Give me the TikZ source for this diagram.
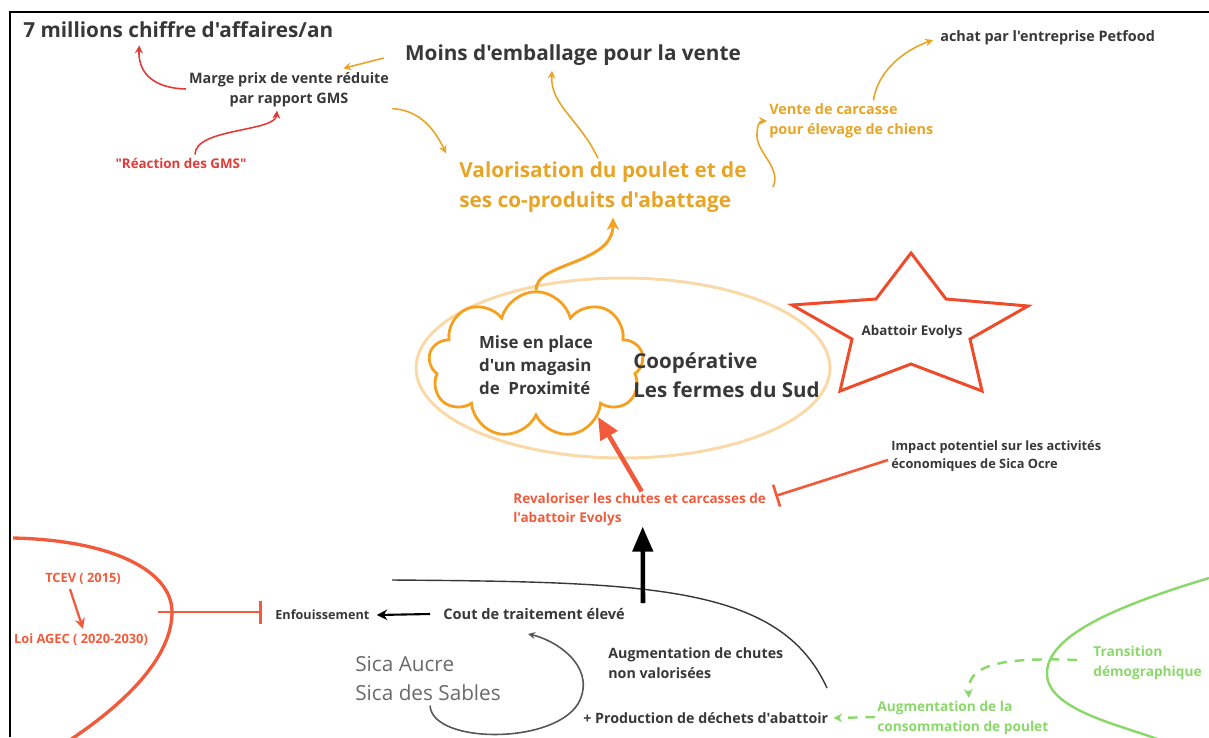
\documentclass[tikz,border=0pt]{standalone}
\usepackage{fontspec}
\setmainfont{Open Sans}[Ligatures=TeXOff]
\usetikzlibrary{arrows.meta, calc, shapes.symbols, shapes.geometric}

\definecolor{txtdark}{HTML}{383838}
\definecolor{gold}{HTML}{E8A425}
\definecolor{cloudor}{HTML}{F5A01E}
\definecolor{peach}{HTML}{FAD9A8}
\definecolor{starred}{HTML}{EE4B2B}
\definecolor{tomato}{HTML}{F15B3B}
\definecolor{gmsred}{HTML}{E23A36}
\definecolor{leaf}{HTML}{8BD86A}
\definecolor{sicagray}{HTML}{6A6A6A}

\begin{document}
\begin{tikzpicture}[x=0.02cm,y=-0.02cm,>=Stealth]
  % styles
  \tikzstyle{txt} = [inner sep=0pt,text=txtdark,font=\bfseries\fontsize{8.2}{11.4}\selectfont];
  \tikzstyle{bigtxt} = [txt,font=\bfseries\fontsize{11.8}{14}\selectfont];
  \tikzstyle{tinytxt} = [txt,font=\bfseries\fontsize{7.3}{10.3}\selectfont];
  \tikzstyle{valotxt} = [txt,text=gold,align=left,font=\bfseries\fontsize{11.8}{17}\selectfont];
  \tikzstyle{cloudbox} = [cloud,draw=cloudor,line width=1.6pt,cloud puffs=9,aspect=1.45,
                          minimum width=4.3cm,minimum height=2.75cm,inner sep=0pt,
                          align=left,text=txtdark,font=\bfseries\fontsize{9.6}{13}\selectfont];
  \tikzstyle{coopell} = [ellipse,draw=peach,line width=1.7pt,minimum width=8.28cm,minimum height=3.6cm];
  \tikzstyle{thinarr} = [->,line width=0.9pt,>={Stealth[length=4.5pt,width=4.5pt]}];
  \tikzstyle{bararr} = [line width=1.5pt,-{Bar[width=0.46cm,line width=1.5pt]}];
  \tikzstyle{greendash} = [leaf,line width=1.4pt,dash pattern=on 5.5pt off 4.5pt,->,>={Stealth[length=5pt,width=5pt]}];

  \useasboundingbox (0,0) rectangle (1209,737);
  \draw[line width=1.6pt] (10,737) -- (10,12) -- (1209,12);

  % nodes
  \node[bigtxt,anchor=west] (chiffre) at (23,30) {7 millions chiffre d'affaires/an};
  \node[txt,align=center] (marge) at (289,90) {Marge prix de vente réduite\\par rapport GMS};
  \node[txt,text=gmsred,font=\bfseries\fontsize{7.6}{10}\selectfont] (gms) at (181,163) {"Réaction des GMS"};
  \node[bigtxt] (emballage) at (573,55) {Moins d'emballage pour la vente};
  \node[valotxt] (valo) at (603,187) {Valorisation du poulet et de\\ses co-produits d'abattage};
  \node[txt,text=gold,align=left,anchor=west] (vente) at (769,121) {Vente de carcasse\\pour élevage de chiens};
  \node[txt,anchor=west] (petfood) at (940,38) {achat par l'entreprise Petfood};

  \node[coopell] (coop) at (623,368) {};
  \node[cloudbox] (magasin) at (536,365) {Mise en place\\d'un magasin\\de~ Proximité};
  \node[bigtxt,align=left,anchor=west,font=\bfseries\fontsize{11.7}{16.5}\selectfont] (cooplbl) at (633,375) {Coopérative\\Les fermes du Sud};

  \draw[starred,line width=1.7pt] (911,253) -- (946,299) -- (1028,306) -- (970,339) -- (982,391)
        -- (911,364) -- (840,391) -- (852,339) -- (792,305) -- (876,299) -- cycle;
  \node[tinytxt,font=\bfseries\fontsize{7.6}{10}\selectfont] (evolys) at (912,332) {Abattoir Evolys};

  \node[tinytxt,align=left,anchor=west] (impact) at (891,456) {Impact potentiel sur les activités\\économiques de Sica Ocre};
  \node[tinytxt,text=tomato,align=left,anchor=west,font=\bfseries\fontsize{7.7}{10.8}\selectfont] (revalo) at (513,509)
        {Revaloriser les chutes et carcasses de\\l'abattoir Evolys};

  \node[txt,anchor=west,font=\bfseries\fontsize{8.3}{10}\selectfont] (cout) at (443,614) {Cout de traitement élevé};
  \node[tinytxt,anchor=west,font=\bfseries\fontsize{7.2}{10}\selectfont] (enfouis) at (275,615) {Enfouissement};
  \node[tinytxt,text=tomato] (tcev) at (83,579) {TCEV ( 2015)};
  \node[tinytxt,text=tomato] (agec) at (81,640) {Loi AGEC ( 2020-2030)};
  \node[inner sep=0pt,text=sicagray,align=left,anchor=west,font=\fontsize{11.8}{16.5}\selectfont] (sica) at (355,678)
        {Sica Aucre\\Sica des Sables};
  \node[txt,align=left,anchor=west,font=\bfseries\fontsize{8.1}{11.4}\selectfont] (chutes) at (608,663)
        {Augmentation de chutes\\non valorisées};
  \node[txt,anchor=west,font=\bfseries\fontsize{8.1}{10}\selectfont] (prod) at (583,718) {+ Production de déchets d'abattoir};
  \node[txt,text=leaf,align=left,anchor=west,font=\bfseries\fontsize{7.8}{11.4}\selectfont] (conso) at (877,718) {Augmentation de la\\consommation de poulet};
  \node[txt,text=leaf,align=left,anchor=west,font=\bfseries\fontsize{7.8}{11.4}\selectfont] (trans) at (1093,663) {Transition\\démographique};

  \coordinate (policy) at (158,612);
  \coordinate (hub) at (643,603);

  % outlines
  \draw[tomato,line width=1.9pt] (13,538) .. controls (110,540) and (172,570) .. (172,612)
        .. controls (172,655) and (130,700) .. (70,740);
  \draw[leaf,line width=1.4pt] (1209,578) .. controls (1120,605) and (1045,635) .. (1047,675)
        .. controls (1049,710) and (1120,725) .. (1160,740);
  \draw[txtdark,line width=0.8pt] (392,580) .. controls (650,582) and (780,585) .. (827,688);

  % edges
  \path [gold,thinarr] ($(emballage.west)+(-21,3)$) edge ($(marge.north east)+(-46,-4)$);
  \draw [gold,thinarr] ($(marge.south east)+(3,1)$) .. controls (420,110) and (435,130) .. ($(valo.north west)+(-13,-8)$);
  \draw [gold,thinarr] ($(valo.north)+(-5,-3)$) .. controls (580,120) and (550,105) .. ($(emballage.south)+(-21,5)$);
  \draw [gold,thinarr] ($(valo.east)+(26,0)$) .. controls (782,168) and (756,152) .. (757,135)
        .. controls (757,124) and (760,121) .. ($(vente.west)+(-2,0)$);
  \draw [gold,thinarr] ($(vente.north)+(22,-3)$) .. controls (878,70) and (905,50) .. ($(petfood.west)+(-7,2)$);
  \draw [cloudor,line width=1.7pt,->,>={Stealth[length=7pt,width=7pt]}] (magasin.north)
        .. controls (535,262) and (613,265) .. ($(valo.south)+(10,5)$);

  \draw [gmsred,thinarr] ($(marge.west)+(-3,-1)$) .. controls (150,88) and (138,70) .. ($(chiffre.south)+(-39,7)$);
  \draw [gmsred,thinarr] ($(gms.north)+(14,-3)$) .. controls (195,128) and (275,132) .. ($(marge.south)+(-12,3)$);

  \path [tomato,line width=2.6pt,-{Triangle[length=0.44cm,width=0.38cm]}] ($(revalo.north)+(2,-1)$) edge (magasin.-40);
  \path [tomato,bararr] ($(impact.west)+(-3,4)$) edge ($(revalo.east)+(9,-13)$);
  \path [black,line width=2.6pt,-{Triangle[length=0.5cm,width=0.4cm]}] (hub) edge ($(revalo.south)+(3,1)$);
  \path [black,line width=1.2pt,->,>={Stealth[length=6pt,width=6pt]}] ($(cout.west)+(-13,0)$) edge ($(enfouis.east)+(7,0)$);
  \path [tomato,bararr] (policy) edge ($(enfouis.west)+(-13,-3)$);
  \path [tomato,line width=1.3pt,->,>={Stealth[length=6pt,width=6pt]}] ($(tcev.south)+(-13,4)$) edge ($(agec.north)+(2,-5)$);

  \draw [txtdark!85,line width=0.9pt,->,>={Stealth[length=4pt,width=4pt]}] ($(sica.south)+(2,5)$)
        .. controls (432,745) and (560,745) .. (580,700) .. controls (595,665) and (555,640) .. ($(cout.south)+(-6,14)$);

  \draw [greendash] ($(conso.west)+(-2,-1)$) -- ($(prod.east)+(5,0)$);
  \draw [greendash] ($(trans.west)+(-16,-3)$) .. controls (1000,657) and (967,665) .. ($(conso.north)+(6,-3)$);
\end{tikzpicture}
\end{document}
